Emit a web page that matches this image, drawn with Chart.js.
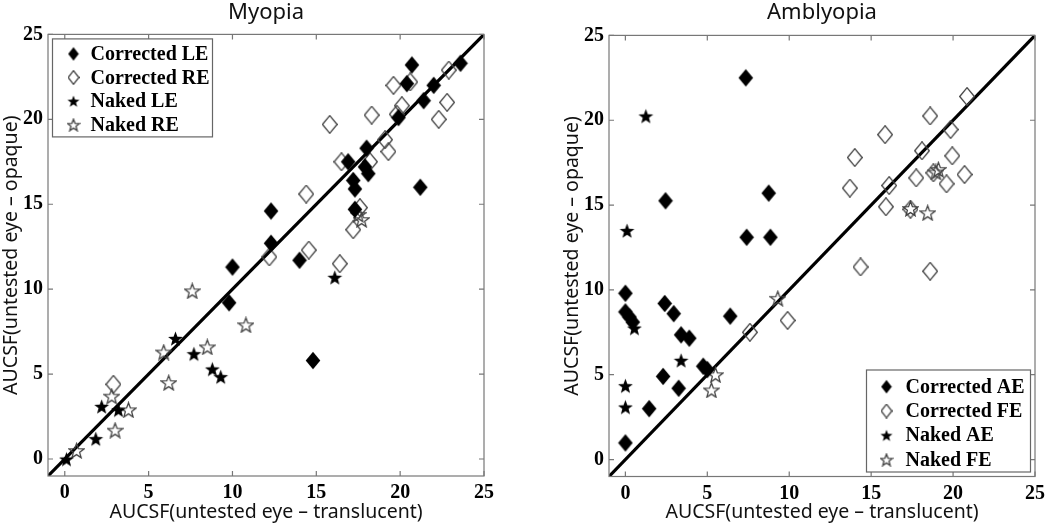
<!DOCTYPE html>
<html>
<head>
<meta charset="utf-8">
<script src="https://cdn.jsdelivr.net/npm/chart.js@4.4.1/dist/chart.umd.min.js"></script>
<style>
  html, body { margin: 0; padding: 0; background: #fff; }
  .panel { position: absolute; top: 0; width: 525px; height: 524px; }
</style>
</head>
<body>
<div class="panel" style="left:0"><canvas id="myopiaChart"></canvas></div>
<div class="panel" style="left:525px"><canvas id="amblyopiaChart"></canvas></div>
<script>
// axis ticks and range shared by both panels
const tickValues = [0, 5, 10, 15, 20, 25];
const axisMin = -1;
const axisMax = 25;
const xTitle = 'AUCSF(untested eye \u2013 translucent)';
const yTitle = 'AUCSF(untested eye \u2013 opaque)';

// Myopia: [translucent, opaque]
const myoCorrectedLE = [[20.7,23.2],[20.4,22.1],[22.0,22.0],[23.6,23.3],[21.4,21.1],[19.9,20.1],[18.0,18.3],[16.9,17.5],[17.9,17.2],[18.1,16.8],[17.2,16.4],[17.3,15.9],[17.3,14.7],[21.2,16.0],[12.3,14.6],[12.3,12.7],[14.0,11.7],[10.0,11.3],[9.8,9.2],[14.8,5.8]];
const myoCorrectedRE = [[22.9,22.9],[20.6,22.2],[19.6,22.0],[20.1,20.8],[22.8,21.0],[22.3,20.0],[18.3,20.25],[15.8,19.7],[19.8,20.3],[19.1,18.8],[19.3,18.1],[16.5,17.5],[18.2,17.5],[14.4,15.6],[17.2,13.5],[17.6,14.8],[12.2,11.9],[14.55,12.3],[16.4,11.5],[2.9,4.4]];
const myoNakedLE = [[16.1,10.7],[6.6,7.1],[7.7,6.2],[8.8,5.3],[9.3,4.85],[2.2,3.1],[3.2,2.9],[1.85,1.2],[0.1,0.0]];
const myoNakedRE = [[7.6,9.9],[10.8,7.9],[8.5,6.6],[5.9,6.3],[6.2,4.5],[2.8,3.7],[3.8,2.9],[3.0,1.7],[0.7,0.5],[17.7,14.1],[17.5,14.4]];

// Amblyopia: [translucent, opaque]
const ambCorrectedAE = [[7.35,22.5],[2.45,15.25],[8.75,15.7],[7.4,13.1],[8.85,13.1],[0.0,9.8],[0.0,8.7],[0.25,8.4],[0.45,8.1],[2.4,9.2],[2.95,8.6],[6.4,8.45],[3.4,7.35],[3.9,7.15],[4.75,5.5],[5.0,5.3],[2.3,4.9],[3.25,4.2],[1.45,3.0],[0.0,0.98]];
const ambCorrectedFE = [[20.85,21.4],[18.6,20.25],[19.85,19.45],[15.85,19.15],[14.0,17.8],[18.1,18.2],[19.95,17.9],[20.7,16.8],[17.75,16.6],[18.8,16.9],[19.6,16.25],[13.7,16.0],[16.1,16.15],[15.9,14.9],[17.4,14.75],[14.35,11.35],[18.6,11.1],[9.9,8.2],[7.6,7.5]];
const ambNakedAE = [[1.25,20.25],[0.1,13.5],[3.4,5.85],[0.0,4.35],[0.0,3.1],[0.55,7.75]];
const ambNakedFE = [[9.3,9.5],[5.5,5.0],[5.25,4.1],[17.4,14.8],[18.45,14.55],[19.1,17.1],[18.95,16.95]];

const toPoints = arr => arr.map(p => ({ x: p[0], y: p[1] }));

// matlab-like marker images
function makeMarker(shape, filled, w, h) {
    const c = document.createElement('canvas');
    c.width = w;
    c.height = h;
    const g = c.getContext('2d');
    g.beginPath();
    if (shape === 'diamond') {
        g.moveTo(w / 2, 0.7);
        g.lineTo(w - 0.7, h / 2);
        g.lineTo(w / 2, h - 0.7);
        g.lineTo(0.7, h / 2);
    } else {
        const cx = w / 2, cy = h / 2 + h * 0.05;
        const R = w / 2 - 0.7, r = R * 0.42;
        for (let i = 0; i < 10; i++) {
            const a = -Math.PI / 2 + i * Math.PI / 5;
            const rad = i % 2 ? r : R;
            g.lineTo(cx + rad * Math.cos(a), cy + rad * Math.sin(a));
        }
    }
    g.closePath();
    if (filled) {
        g.fillStyle = '#000';
        g.fill();
    } else {
        g.strokeStyle = '#444';
        g.lineWidth = 1.3;
        g.stroke();
    }
    return c;
}

const markers = {
    diamondFilled: makeMarker('diamond', true, 16, 19),
    diamondOpen: makeMarker('diamond', false, 16, 19),
    starFilled: makeMarker('star', true, 17, 17),
    starOpen: makeMarker('star', false, 17, 17)
};
const legendIcons = {
    diamondFilled: makeMarker('diamond', true, 12, 15),
    diamondOpen: makeMarker('diamond', false, 12, 15),
    starFilled: makeMarker('star', true, 14, 14),
    starOpen: makeMarker('star', false, 14, 14)
};

// frame, inward ticks on all four sides, and boxed legend
const framePlugin = {
    id: 'frameBox',
    afterDraw(chart, args, opts) {
        const { ctx, chartArea: a, scales: { x, y } } = chart;
        ctx.save();
        ctx.strokeStyle = '#777';
        ctx.lineWidth = 1.2;
        ctx.strokeRect(a.left, a.top, a.right - a.left, a.bottom - a.top);
        ctx.beginPath();
        x.ticks.forEach(t => {
            const px = x.getPixelForValue(t.value);
            ctx.moveTo(px, a.bottom); ctx.lineTo(px, a.bottom - 5);
            ctx.moveTo(px, a.top); ctx.lineTo(px, a.top + 5);
        });
        y.ticks.forEach(t => {
            const py = y.getPixelForValue(t.value);
            ctx.moveTo(a.left, py); ctx.lineTo(a.left + 5, py);
            ctx.moveTo(a.right, py); ctx.lineTo(a.right - 5, py);
        });
        ctx.stroke();

        // legend
        const items = chart.data.datasets.filter(d => d.iconKey);
        const bx = opts.corner === 'topLeft' ? a.left + opts.inset : a.right - opts.inset - opts.width;
        const by = opts.corner === 'topLeft' ? a.top + opts.inset : a.bottom - opts.inset - opts.height;
        ctx.fillStyle = '#fff';
        ctx.fillRect(bx, by, opts.width, opts.height);
        ctx.strokeStyle = '#666';
        ctx.lineWidth = 1.2;
        ctx.strokeRect(bx, by, opts.width, opts.height);
        ctx.font = 'bold 20px "Liberation Serif", "Times New Roman", serif';
        ctx.fillStyle = '#000';
        ctx.textBaseline = 'middle';
        ctx.textAlign = 'left';
        items.forEach((d, i) => {
            const cy = by + opts.firstRow + i * opts.rowHeight;
            const icon = legendIcons[d.iconKey];
            ctx.drawImage(icon, bx + opts.iconX - icon.width / 2, cy - icon.height / 2);
            ctx.fillText(d.label, bx + opts.textX, cy + 1);
        });
        ctx.restore();
    }
};

function makeChart(canvasId, cfg) {
    const tickFont = { family: '"Liberation Serif", "Times New Roman", serif', size: 20, weight: 'bold' };
    const titleFont = { family: '"Noto Sans", "Open Sans", sans-serif', size: 19.5 };
    const diag = [{ x: axisMin, y: axisMin }, { x: axisMax, y: axisMax }];

    const datasets = cfg.series.map(s => ({
        label: s.label,
        data: toPoints(s.data),
        iconKey: s.marker,
        pointStyle: markers[s.marker],
        pointRadius: 8,
        showLine: false
    }));
    datasets.push({
        label: 'y = x',
        data: diag,
        showLine: true,
        borderColor: '#000',
        borderWidth: 3.2,
        pointRadius: 0
    });

    return new Chart(document.getElementById(canvasId), {
        type: 'scatter',
        data: { datasets: datasets },
        options: {
            responsive: true,
            maintainAspectRatio: false,
            animation: false,
            events: [],
            layout: { padding: { left: 0, right: cfg.padRight, top: 0, bottom: 0 } },
            plugins: {
                legend: { display: false },
                tooltip: { enabled: false },
                title: {
                    display: true,
                    text: cfg.title,
                    fullSize: false,
                    color: '#111',
                    font: { family: '"Noto Sans", "Open Sans", sans-serif', size: 22, weight: 'normal' },
                    padding: { top: 0, bottom: cfg.titleGap }
                },
                frameBox: cfg.legend
            },
            scales: {
                x: {
                    type: 'linear',
                    min: axisMin,
                    max: axisMax,
                    afterBuildTicks: s => { s.ticks = tickValues.map(v => ({ value: v })); },
                    afterFit: s => { s.height = cfg.xAxisHeight; },
                    grid: { display: false, drawTicks: false },
                    border: { display: false },
                    ticks: { font: tickFont, color: '#000', padding: 5, maxRotation: 0 },
                    title: { display: true, text: xTitle, color: '#111', font: titleFont, padding: { top: 0, bottom: 0 } }
                },
                y: {
                    type: 'linear',
                    min: axisMin,
                    max: axisMax,
                    afterBuildTicks: s => { s.ticks = tickValues.map(v => ({ value: v })); },
                    afterFit: s => { s.width = cfg.yAxisWidth; },
                    grid: { display: false, drawTicks: false },
                    border: { display: false },
                    ticks: { font: tickFont, color: '#000', padding: 5 },
                    title: { display: true, text: yTitle, color: '#111', font: titleFont, padding: { top: cfg.yTitleOffset, bottom: 0 } }
                }
            }
        },
        plugins: [framePlugin]
    });
}

makeChart('myopiaChart', {
    title: 'Myopia',
    series: [
        { label: 'Corrected LE', data: myoCorrectedLE, marker: 'diamondFilled' },
        { label: 'Corrected RE', data: myoCorrectedRE, marker: 'diamondOpen' },
        { label: 'Naked LE', data: myoNakedLE, marker: 'starFilled' },
        { label: 'Naked RE', data: myoNakedRE, marker: 'starOpen' }
    ],
    padRight: 41,
    titleGap: 8,
    xAxisHeight: 48,
    yAxisWidth: 48,
    yTitleOffset: 0,
    legend: { corner: 'topLeft', inset: 4.5, width: 160, height: 98, firstRow: 15, rowHeight: 23.6, iconX: 21, textX: 38 }
});

makeChart('amblyopiaChart', {
    title: 'Amblyopia',
    series: [
        { label: 'Corrected AE', data: ambCorrectedAE, marker: 'diamondFilled' },
        { label: 'Corrected FE', data: ambCorrectedFE, marker: 'diamondOpen' },
        { label: 'Naked AE', data: ambNakedAE, marker: 'starFilled' },
        { label: 'Naked FE', data: ambNakedFE, marker: 'starOpen' }
    ],
    padRight: 10.5,
    titleGap: 9,
    xAxisHeight: 47.5,
    yAxisWidth: 84,
    yTitleOffset: 35.5,
    legend: { corner: 'bottomRight', inset: 4.5, width: 164, height: 102, firstRow: 16.7, rowHeight: 24.3, iconX: 20, textX: 39 }
});
</script>
</body>
</html>
